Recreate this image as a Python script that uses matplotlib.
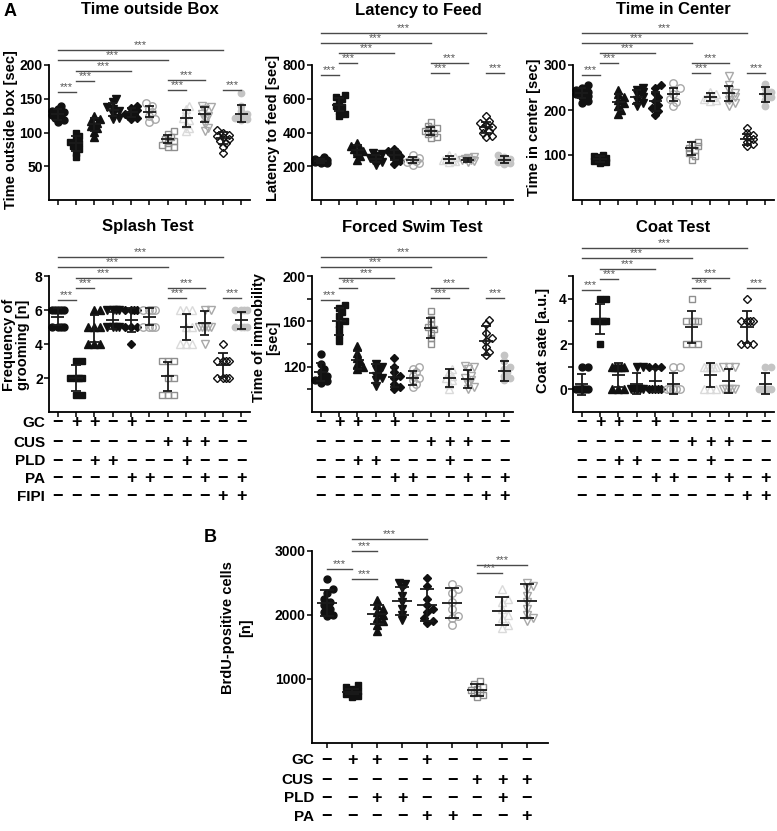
import numpy as np
import matplotlib
matplotlib.use('Agg')
import matplotlib.pyplot as plt
from matplotlib.transforms import blended_transform_factory

plt.rcParams['font.family'] = ['Liberation Sans', 'DejaVu Sans']
plt.rcParams['font.weight'] = 'bold'

W, H = 777, 831

# ---------------- data ----------------
groups = ['Ctrl', 'GC', 'GC+PLD', 'PLD', 'GC+PA', 'PA',
          'CUS', 'CUS+PLD', 'CUS+PA', 'FIPI', 'FIPI+PA']

table_rows = ['GC', 'CUS', 'PLD', 'PA', 'FIPI']
table_signs = ['-++-+------',
               '------+++--',
               '--++---+---',
               '----++--+-+',
               '---------++']

# Time outside box [sec]
box_pts = [[140, 135, 132, 130, 128, 126, 124, 121, 118, 116],
           [100, 95, 90, 86, 84, 80, 76, 70, 63],
           [125, 120, 117, 114, 110, 106, 101, 94],
           [150, 145, 138, 135, 132, 128, 122, 120],
           [140, 137, 133, 130, 128, 127, 125, 122, 120],
           [143, 140, 135, 130, 125, 120, 116],
           [102, 98, 93, 90, 88, 85, 82, 79, 78],
           [140, 135, 128, 122, 118, 112, 107, 102],
           [140, 138, 135, 128, 125, 120, 113, 107, 102],
           [103, 100, 97, 95, 93, 90, 87, 84, 78, 70],
           [158, 140, 132, 128, 125, 122, 120, 118]]
box_mean = [127, 84, 112, 134, 130, 131, 91, 121, 127, 92, 128]
box_sd = [8, 11, 10, 10, 7, 8, 6, 13, 11, 9, 13]

# Latency to feed [sec]
lat_pts = [[255, 245, 240, 235, 230, 228, 225, 222, 220],
           [620, 610, 600, 580, 560, 550, 530, 510, 495],
           [340, 320, 310, 300, 290, 280, 260, 240],
           [280, 270, 260, 250, 240, 235, 225, 210],
           [300, 290, 285, 270, 260, 250, 230, 215],
           [265, 250, 240, 232, 225, 218, 210],
           [460, 440, 425, 415, 410, 400, 390, 375, 365],
           [265, 255, 245, 240, 235, 230, 225],
           [255, 248, 242, 238, 235, 232, 228],
           [495, 470, 455, 445, 435, 425, 410, 395, 380, 375],
           [265, 255, 245, 240, 232, 225, 220, 215]]
lat_mean = [232, 565, 297, 245, 265, 235, 410, 242, 238, 430, 240]
lat_sd = [10, 40, 30, 20, 30, 18, 25, 20, 12, 35, 20]

# Time in center [sec]
cen_pts = [[255, 250, 245, 240, 238, 235, 232, 228, 220, 215],
           [100, 98, 95, 93, 91, 89, 87, 85, 83],
           [245, 235, 228, 222, 215, 208, 200, 192],
           [250, 245, 240, 235, 228, 222, 215, 210],
           [255, 248, 238, 228, 220, 212, 205, 198, 190],
           [260, 250, 245, 235, 225, 218, 210],
           [130, 125, 120, 115, 112, 105, 98, 90],
           [240, 235, 230, 228, 225, 222, 220],
           [275, 255, 245, 238, 232, 228, 222, 215, 210],
           [160, 150, 145, 140, 135, 130, 125, 120],
           [258, 248, 240, 235, 228, 222, 208]]
cen_mean = [238, 91, 217, 229, 219, 235, 115, 229, 237, 135, 235]
cen_sd = [12, 6, 18, 15, 22, 15, 15, 8, 17, 12, 17]

# Splash test: frequency of grooming [n]
spl_pts = [[6, 6, 6, 6, 6, 5, 5, 5, 5],
           [3, 3, 2, 2, 2, 2, 1, 1],
           [6, 6, 5, 5, 5, 4, 4, 4],
           [6, 6, 6, 5, 5, 5, 5, 6],
           [6, 6, 6, 6, 5, 5, 5, 4],
           [6, 6, 6, 6, 5, 5, 5, 5],
           [3, 3, 3, 2, 2, 1, 1, 1],
           [6, 6, 6, 5, 5, 4, 4, 4],
           [6, 6, 5, 5, 5, 5, 5, 4],
           [4, 3, 3, 3, 3, 2, 2, 2, 2],
           [6, 6, 6, 6, 5, 5, 5, 5]]
spl_mean = [5.6, 2.0, 4.9, 5.4, 5.4, 5.6, 2.1, 5.0, 5.25, 2.75, 5.4]
spl_sd = [0.5, 0.75, 0.8, 0.5, 0.7, 0.5, 0.85, 0.75, 0.7, 0.7, 0.5]

# Forced swim test: time of immobility [sec]
fst_pts = [[131, 122, 118, 115, 112, 110, 108, 107, 106],
           [174, 172, 168, 165, 160, 158, 153, 148, 143],
           [138, 132, 128, 125, 122, 120, 118],
           [122, 120, 118, 115, 112, 110, 108, 103],
           [128, 120, 115, 112, 110, 105, 102, 100],
           [120, 118, 115, 112, 110, 108, 105, 102],
           [169, 162, 158, 155, 153, 150, 145, 140],
           [118, 115, 112, 110, 108, 105, 100],
           [121, 120, 118, 112, 110, 108, 105, 102, 100],
           [161, 158, 150, 145, 143, 137, 133, 130],
           [130, 125, 120, 118, 115, 112, 110, 108]]
fst_mean = [115, 160, 126, 114, 111, 110, 154, 110, 109, 143, 116]
fst_sd = [8, 12, 8, 8, 9, 6, 9, 8, 8, 13, 9]

# Coat test: coat state [a.u.]
coat_pts = [[1, 1, 0, 0, 0, 0, 0, 0, 0],
            [4, 4, 3, 3, 3, 3, 2],
            [1, 1, 1, 1, 1, 0, 0, 0],
            [1, 1, 0, 0, 0, 0, 0, 0],
            [1, 1, 1, 0, 0, 0, 0, 0],
            [1, 1, 0, 0, 0, 0, 0, 0],
            [4, 3, 3, 3, 3, 2, 2, 2],
            [1, 1, 1, 1, 1, 0, 0, 0],
            [1, 1, 1, 0, 0, 0, 0, 0],
            [4, 3, 3, 3, 3, 2, 2, 2],
            [1, 1, 0, 0, 0, 0, 0, 0]]
coat_mean = [0.22, 3.1, 0.63, 0.25, 0.38, 0.25, 2.75, 0.63, 0.38, 2.75, 0.25]
coat_sd = [0.45, 0.65, 0.52, 0.46, 0.5, 0.46, 0.7, 0.52, 0.52, 0.7, 0.46]

# B: BrdU-positive cells [n]
brdu_pts = [[2570, 2400, 2350, 2250, 2200, 2150, 2100, 2050, 2000, 1980],
            [900, 870, 850, 820, 800, 780, 760, 740, 720],
            [2230, 2150, 2100, 2050, 2000, 1950, 1900, 1850, 1750],
            [2500, 2480, 2420, 2300, 2200, 2100, 2000, 1920],
            [2580, 2450, 2250, 2150, 2100, 2050, 1950, 1900, 1880],
            [2480, 2400, 2350, 2200, 2100, 1980, 1950, 1850],
            [970, 920, 880, 850, 830, 800, 780, 750, 720],
            [2400, 2250, 2200, 2100, 2000, 1950, 1850, 1800],
            [2500, 2450, 2400, 2300, 2200, 2100, 2000, 1950, 1900]]
brdu_mean = [2190, 800, 2010, 2220, 2150, 2190, 830, 2060, 2220]
brdu_sd = [200, 40, 150, 220, 250, 230, 90, 220, 260]

# ---------------- styles ----------------
styles = [dict(marker='o', fc='#111111', ec='#111111', ms=5.0),
          dict(marker='s', fc='#111111', ec='#111111', ms=4.6),
          dict(marker='^', fc='#111111', ec='#111111', ms=5.4),
          dict(marker='v', fc='#111111', ec='#111111', ms=5.4),
          dict(marker='D', fc='#111111', ec='#111111', ms=3.8),
          dict(marker='o', fc='none', ec='#a8a8a8', ms=5.4),
          dict(marker='s', fc='none', ec='#8f8f8f', ms=5.0),
          dict(marker='^', fc='none', ec='#dadada', ms=5.8),
          dict(marker='v', fc='none', ec='#a8a8a8', ms=5.8),
          dict(marker='D', fc='none', ec='#111111', ms=4.0),
          dict(marker='o', fc='#c4c4c4', ec='#c4c4c4', ms=4.6)]

sig_pairs_A = [(0, 1), (1, 2), (1, 4), (0, 6), (0, 9), (6, 7), (6, 8), (9, 10)]

fig = plt.figure(figsize=(W / 100, H / 100), dpi=100)


def px_axes(left, top, right, bottom):
    return fig.add_axes([left / W, 1 - bottom / H, (right - left) / W, (bottom - top) / H])


def swarm(vals, ypp, xpp, diam=6.0):
    # simple deterministic beeswarm: nudge sideways points that collide
    vals = np.asarray(vals, dtype=float)
    order = np.argsort(vals)
    placed = []
    offs = np.zeros(len(vals))
    for i in order:
        y = vals[i] * ypp
        best, best_d = 0.0, -1
        for k in [0, 1, -1, 2, -2]:
            xo = k * diam * 0.5
            d = min([np.hypot(xo - px, y - py) for px, py in placed] or [99])
            if d >= diam * 0.75:
                best = xo
                break
            if d > best_d:
                best, best_d = xo, d
        placed.append((best, y))
        offs[i] = best / xpp
    return offs


def draw_panel(box, pts, means, sds, ylim, yticks, minor, half_mean=0.36, half_cap=0.25):
    ax = px_axes(*box)
    n = len(pts)
    left, top, right, bottom = box
    ax_w, ax_h = right - left, bottom - top
    if n == 11:
        xlim = (-0.47, 10.47)
    else:
        xlim = (-0.6, n - 1 + 0.84)
    xpp = ax_w / (xlim[1] - xlim[0])
    ypp = ax_h / (ylim[1] - ylim[0])
    for i in range(n):
        st = styles[i]
        offs = swarm(pts[i], ypp, xpp)
        ax.plot(i + offs, pts[i], ls='none', marker=st['marker'], ms=st['ms'],
                mfc=st['fc'], mec=st['ec'], mew=1.0, zorder=2, clip_on=False)
        m, s = means[i], sds[i]
        kw = dict(color='#1a1a1a', lw=1.3, zorder=3, solid_capstyle='butt', clip_on=False)
        ax.plot([i - half_mean, i + half_mean], [m, m], **kw)
        ax.plot([i, i], [m - s, m + s], **kw)
        ax.plot([i - half_cap, i + half_cap], [m + s, m + s], **kw)
        ax.plot([i - half_cap, i + half_cap], [m - s, m - s], **kw)
    ax.set_xlim(*xlim)
    ax.set_ylim(*ylim)
    ax.set_xticks(range(n))
    ax.set_xticklabels([])
    ax.set_yticks(yticks)
    ax.set_yticks(minor, minor=True)
    ax.tick_params(axis='both', which='both', direction='out', length=3.5, width=1.1,
                   labelsize=10, pad=1)
    for lab in ax.get_yticklabels():
        lab.set_fontweight('bold')
    for sp in ['top', 'right']:
        ax.spines[sp].set_visible(False)
    for sp in ['left', 'bottom']:
        ax.spines[sp].set_linewidth(1.3)
    return ax


def sig_bars(ax, top_px, pairs, offsets):
    tr = blended_transform_factory(ax.transData, fig.transFigure)
    for (a, b), off in zip(pairs, offsets):
        y = 1 - (top_px - off) / H
        ax.plot([a, b], [y, y], transform=tr, color='#4a4a4a', lw=1.0, clip_on=False)
        ax.text((a + b) / 2, y + 4.5 / H, '***', transform=tr, ha='center', va='center',
                fontsize=8, fontweight='normal', color='#555555')


def sign_table(ax, rows, ys_px, show_labels, label_x=None):
    tr = blended_transform_factory(ax.transData, fig.transFigure)
    for r, (signs, ypx) in enumerate(zip(table_signs, ys_px)):
        if r >= len(rows):
            break
        y = 1 - ypx / H
        for c in range(len(ax.get_xticks())):
            ch = '+' if signs[c] == '+' else '\u2212'
            ax.text(c, y, ch, transform=tr, ha='center', va='center',
                    fontsize=13, fontweight='bold')
        if show_labels:
            fig.text(label_x / W, y, rows[r], ha='right', va='center',
                     fontsize=11, fontweight='bold')


def fig_text(xpx, ypx, s, **kw):
    fig.text(xpx / W, 1 - ypx / H, s, **kw)


# ---------------- panel A top row ----------------
ax1 = draw_panel((49, 65, 250, 200), box_pts, box_mean, box_sd, (0, 200), [50, 100, 150, 200], [])
sig_bars(ax1, 65, sig_pairs_A, [-27, -16, -6, 5, 15, -25, -15, -25])
ax2 = draw_panel((312, 65, 513, 200), lat_pts, lat_mean, lat_sd, (0, 800), [200, 400, 600, 800], [])
sig_bars(ax2, 65, sig_pairs_A, [-10, 2, 12, 22, 32, -8, 2, -8])
ax3 = draw_panel((573, 65, 774, 200), cen_pts, cen_mean, cen_sd, (0, 300), [100, 200, 300], [])
sig_bars(ax3, 65, sig_pairs_A, [-10, 2, 12, 22, 32, -8, 2, -8])

# ---------------- panel A middle row ----------------
ax4 = draw_panel((49, 276, 250, 412), spl_pts, spl_mean, spl_sd, (0, 8), [2, 4, 6, 8], [])
sig_bars(ax4, 276, sig_pairs_A, [-24, -12, -2, 9, 19, -22, -12, -22])
ax5 = draw_panel((312, 276, 513, 412), fst_pts, fst_mean, fst_sd, (80, 200), [120, 160, 200], [100, 140, 180])
sig_bars(ax5, 276, sig_pairs_A, [-24, -12, -2, 9, 19, -22, -12, -22])
ax6 = draw_panel((573, 276, 774, 412), coat_pts, coat_mean, coat_sd, (-1, 5), [0, 2, 4], [1, 3, 5])
sig_bars(ax6, 276, sig_pairs_A, [-14, -3, 7, 18, 28, -12, -2, -12])

rows_A = [423, 443, 461, 479, 497]
sign_table(ax4, table_rows, rows_A, True, label_x=45)
sign_table(ax5, table_rows, rows_A, False)
sign_table(ax6, table_rows, rows_A, False)

# ---------------- panel B ----------------
axB = draw_panel((312, 551, 548, 743), brdu_pts, brdu_mean, brdu_sd, (0, 3000), [1000, 2000, 3000], [],
                 half_mean=0.4, half_cap=0.27)
sig_bars(axB, 551, [(0, 1), (1, 2), (1, 2), (1, 4), (6, 7), (6, 8)], [-18, -28, 0, 12, -22, -14])
sign_table(axB, table_rows[:4], [760, 780, 798, 817], True, label_x=314)

# ---------------- titles and labels ----------------
tkw = dict(ha='center', va='center', fontsize=12, fontweight='bold')
fig_text(150, 10, 'Time outside Box', **tkw)
fig_text(418, 10, 'Latency to Feed', **tkw)
fig_text(673, 10, 'Time in Center', **tkw)
fig_text(148, 227, 'Splash Test', **tkw)
fig_text(412, 227, 'Forced Swim Test', **tkw)
fig_text(673, 227, 'Coat Test', **tkw)

fig_text(10, 12, 'A', ha='center', va='center', fontsize=13, fontweight='bold')
fig_text(210, 538, 'B', ha='center', va='center', fontsize=13, fontweight='bold')

lkw = dict(ha='center', va='center', rotation=90, fontsize=10.5, fontweight='bold')
fig_text(11, 130, 'Time outside box [sec]', **lkw)
fig_text(273, 128, 'Latency to feed [sec]', **lkw)
fig_text(534, 127, 'Time in center [sec]', **lkw)
fig_text(16, 345, 'Frequency of\ngrooming [n]', linespacing=0.95, **lkw)
fig_text(266, 338, 'Time of immobility\n[sec]', linespacing=0.95, **lkw)
fig_text(543, 340, 'Coat sate [a.u.]', **lkw)
fig_text(237, 628, 'BrdU-positive cells\n[n]', linespacing=1.3, **lkw)

fig.savefig('out.png', dpi=100)
